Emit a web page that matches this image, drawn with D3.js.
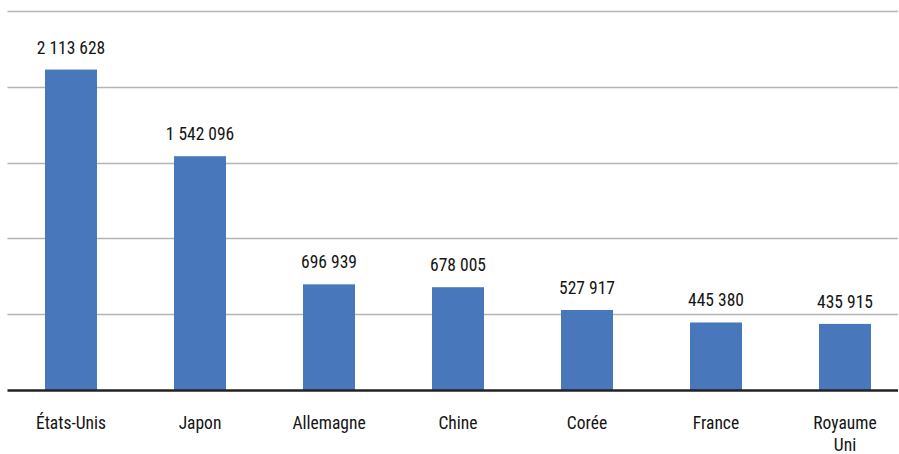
<!DOCTYPE html>
<html>
<head>
<meta charset="utf-8">
<script src="https://cdn.jsdelivr.net/npm/d3@7"></script>
<style>
  html, body { margin: 0; padding: 0; background: #fff; }
  svg text { font-family: "Liberation Sans Narrow", "Roboto Condensed", "Arial Narrow", sans-serif; fill: #141414; font-weight: 400; }
</style>
</head>
<body>
<svg id="chart" width="899" height="454"></svg>
<script>
const categories = [["États-Unis"], ["Japon"], ["Allemagne"], ["Chine"], ["Corée"], ["France"], ["Royaume", "Uni"]];
const values = [2113628, 1542096, 696939, 678005, 527917, 445380, 435915];
const valueLabels = ["2 113 628", "1 542 096", "696 939", "678 005", "527 917", "445 380", "435 915"];
const gridTicks = [500000, 1000000, 1500000, 2000000, 2500000];

const svg = d3.select("#chart");
const names = categories.map(c => c.join(" "));

const x = d3.scaleBand()
  .domain(names)
  .range([6.5, 909.5])
  .paddingInner(0.597)
  .paddingOuter(0.2985);

const y = d3.scaleLinear().domain([0, 2500000]).range([390, 11]);

const left = 7.5, right = 898;

// horizontal gridlines
svg.append("g")
  .selectAll("line")
  .data(gridTicks)
  .join("line")
  .attr("x1", left).attr("x2", right)
  .attr("y1", d => Math.round(y(d)) + 0.5)
  .attr("y2", d => Math.round(y(d)) + 0.5)
  .attr("stroke", "#b4b4b4")
  .attr("stroke-width", 1.5);

// bars
svg.append("g")
  .selectAll("rect")
  .data(values)
  .join("rect")
  .attr("x", (d, i) => x(names[i]))
  .attr("width", x.bandwidth())
  .attr("y", d => y(d))
  .attr("height", d => y(0) - y(d))
  .attr("fill", "#4877bb");

// baseline
svg.append("line")
  .attr("x1", left).attr("x2", right)
  .attr("y1", y(0) + 0.5).attr("y2", y(0) + 0.5)
  .attr("stroke", "#222")
  .attr("stroke-width", 2.5);

// value labels
svg.append("g")
  .selectAll("text")
  .data(values)
  .join("text")
  .attr("x", (d, i) => x(names[i]) + x.bandwidth() / 2)
  .attr("y", d => y(d) - 16)
  .attr("text-anchor", "middle")
  .attr("font-size", 17.5)
  .text((d, i) => valueLabels[i]);

// category labels
const cat = svg.append("g")
  .selectAll("text")
  .data(categories)
  .join("text")
  .attr("x", (d, i) => x(names[i]) + x.bandwidth() / 2)
  .attr("y", 429)
  .attr("text-anchor", "middle")
  .attr("font-size", 17.5);
cat.selectAll("tspan")
  .data(d => d)
  .join("tspan")
  .attr("x", function () { return d3.select(this.parentNode).attr("x"); })
  .attr("dy", (d, i) => i === 0 ? 0 : 22)
  .text(d => d);
</script>
</body>
</html>
